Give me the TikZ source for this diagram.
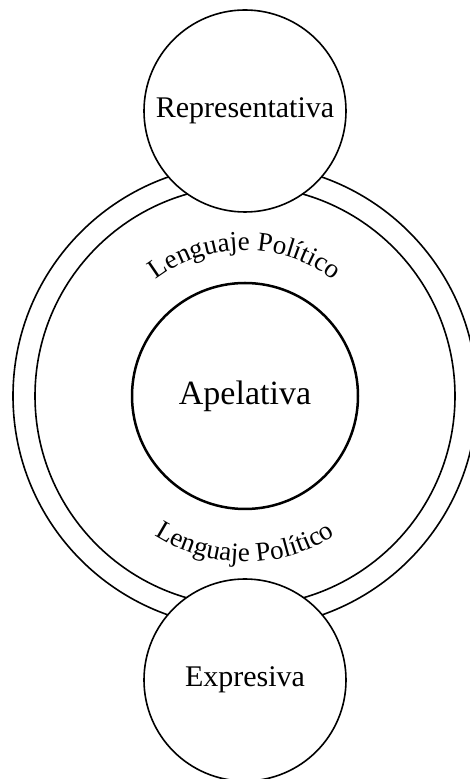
\documentclass[tikz,border=0pt]{standalone}
\usepackage{fontspec}
\setmainfont{Liberation Serif}
\usetikzlibrary{decorations.text}

\begin{document}
\begin{tikzpicture}[
        x=1pt, y=1pt,
        ring/.style={draw, circle, line width=1.6pt, minimum size=#1},
        role/.style={draw, circle, fill=white, line width=1.6pt, minimum size=202pt, inner sep=0pt, font=\fontsize{30}{30}\selectfont},
        arcword/.style={decorate, decoration={text along path, text align=center, text={|\fontsize{27}{27}\selectfont|Lenguaje Político}}}
    ]
    \useasboundingbox (0,0) rectangle (469,779);

    \node[ring=464pt] (outer) at (245,383) {};
    \node[ring=420pt] (inner) at (outer.center) {};
    \node[draw, circle, line width=2.5pt, minimum size=226pt, font=\fontsize{34}{34}\selectfont] (apelativa) at (outer.center) {Apelativa};

    \node[role] (representativa) at ([yshift=285pt]outer.center) {Representativa};
    \node[role] (expresiva) at ([yshift=-284pt]outer.center) {Expresiva};

    % texto en arco
    \path[arcword] (outer.center) ++(150:146pt) arc[start angle=150, end angle=30, radius=146pt];
    \path[arcword] (outer.center) ++(210:166pt) arc[start angle=210, end angle=330, radius=166pt];
\end{tikzpicture}
\end{document}
